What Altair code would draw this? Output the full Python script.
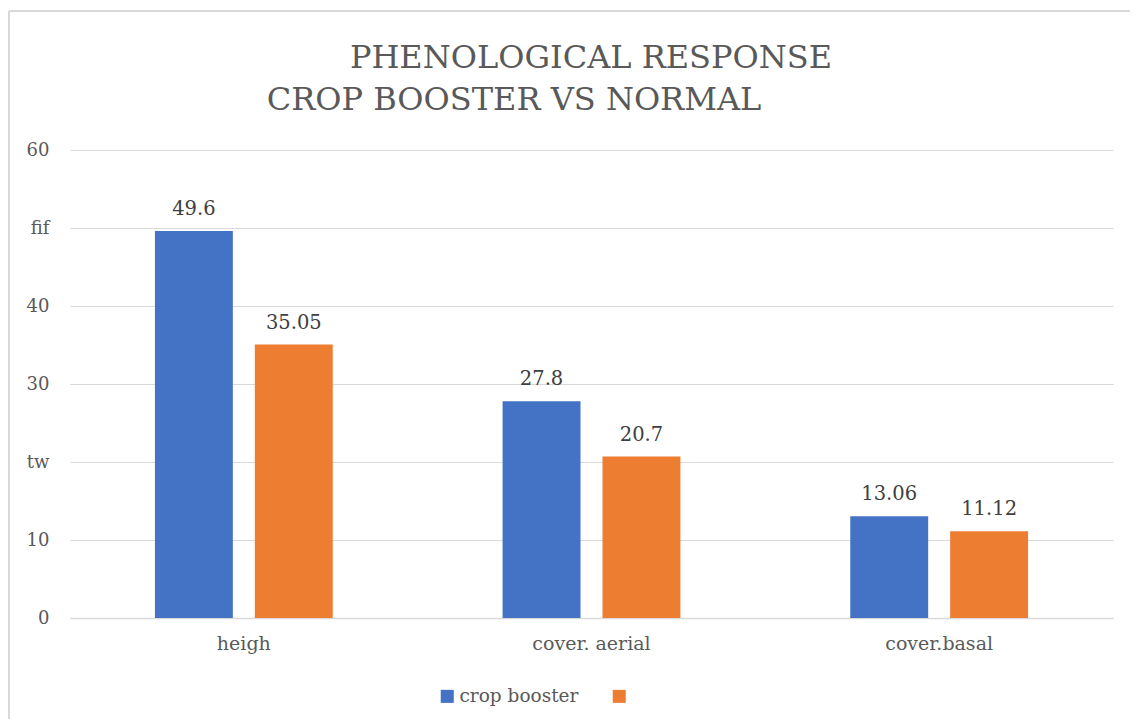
import altair as alt
import pandas as pd

categories = ["heigh", "cover. aerial", "cover.basal"]
series_names = ["crop booster", "normal"]
crop_booster = [49.6, 27.8, 13.06]
normal = [35.05, 20.7, 11.12]
value_labels_cb = ["49.6", "27.8", "13.06"]
value_labels_n = ["35.05", "20.7", "11.12"]
title_line1 = "PHENOLOGICAL RESPONSE"
title_line2 = "CROP BOOSTER VS NORMAL"

rows = []
for i, c in enumerate(categories):
    rows.append({"category": c, "series": series_names[0], "value": crop_booster[i], "label": value_labels_cb[i]})
    rows.append({"category": c, "series": series_names[1], "value": normal[i], "label": value_labels_n[i]})
df = pd.DataFrame(rows)

FONT = "DejaVu Serif"
GREY = "#595959"
W, H = 1043, 468

base = alt.Chart(df).encode(
    x=alt.X("category:N", sort=categories, title=None,
            scale=alt.Scale(paddingInner=0, paddingOuter=0),
            axis=alt.Axis(labelAngle=0, labelFont=FONT, labelFontSize=19, labelColor=GREY,
                          labelPadding=16, ticks=False, domainColor="#d9d9d9", domainWidth=1.5,
                          grid=False)),
    xOffset=alt.XOffset("series:N", sort=series_names,
                        scale=alt.Scale(paddingInner=0.22, paddingOuter=0.85)),
)

bars = base.mark_bar().encode(
    y=alt.Y("value:Q", title=None,
            scale=alt.Scale(domain=[0, 60]),
            axis=alt.Axis(values=[0, 10, 20, 30, 40, 50, 60], labelFont=FONT, labelFontSize=18,
                          labelColor=GREY, labelPadding=21, ticks=False, domain=False,
                          gridColor="#d9d9d9", gridWidth=1.2,
                          labelExpr="datum.value == 50 ? 'fif' : datum.value == 20 ? 'tw' : datum.label")),
    color=alt.Color("series:N", sort=series_names,
                    scale=alt.Scale(domain=series_names, range=["#4472c4", "#ed7d31"]),
                    legend=alt.Legend(title=None, orient="none", legendX=368, legendY=537,
                                      direction="horizontal", symbolType="square", symbolSize=170,
                                      symbolStrokeWidth=0, labelFont=FONT, labelFontSize=18.5,
                                      labelColor=GREY, columnPadding=31, labelOffset=3,
                                      labelExpr="datum.label == 'normal' ? '' : datum.label")),
)

texts = base.mark_text(baseline="alphabetic", dy=-16, font=FONT, fontSize=19.5, color="#404040").encode(
    y=alt.Y("value:Q"),
    text="label:N",
)

tdf = pd.DataFrame({"t1": [title_line1], "t2": [title_line2]})
t1 = alt.Chart(tdf).mark_text(font=FONT, fontSize=32, color=GREY, baseline="alphabetic",
                              align="center").encode(
    text="t1:N", x=alt.value(521), y=alt.value(-82))
t2 = alt.Chart(tdf).mark_text(font=FONT, fontSize=32, color=GREY, baseline="alphabetic",
                              align="center").encode(
    text="t2:N", x=alt.value(444), y=alt.value(-40))

frame_left = alt.Chart(tdf).mark_rule(color="#d9d9d9", strokeWidth=2).encode(
    x=alt.value(-61), y=alt.value(-139), y2=alt.value(H + 101))
frame_top = alt.Chart(tdf).mark_rule(color="#d9d9d9", strokeWidth=2).encode(
    x=alt.value(-61), x2=alt.value(W + 20), y=alt.value(-139))

chart = alt.layer(frame_left, frame_top, bars, texts, t1, t2).properties(
    width=W, height=H,
    autosize=alt.AutoSizeParams(type="none"),
    padding={"left": 62, "top": 142, "right": 17, "bottom": 101},
).configure_view(stroke=None)

chart.save("out.html", embed_options={"renderer": "svg", "actions": False})
